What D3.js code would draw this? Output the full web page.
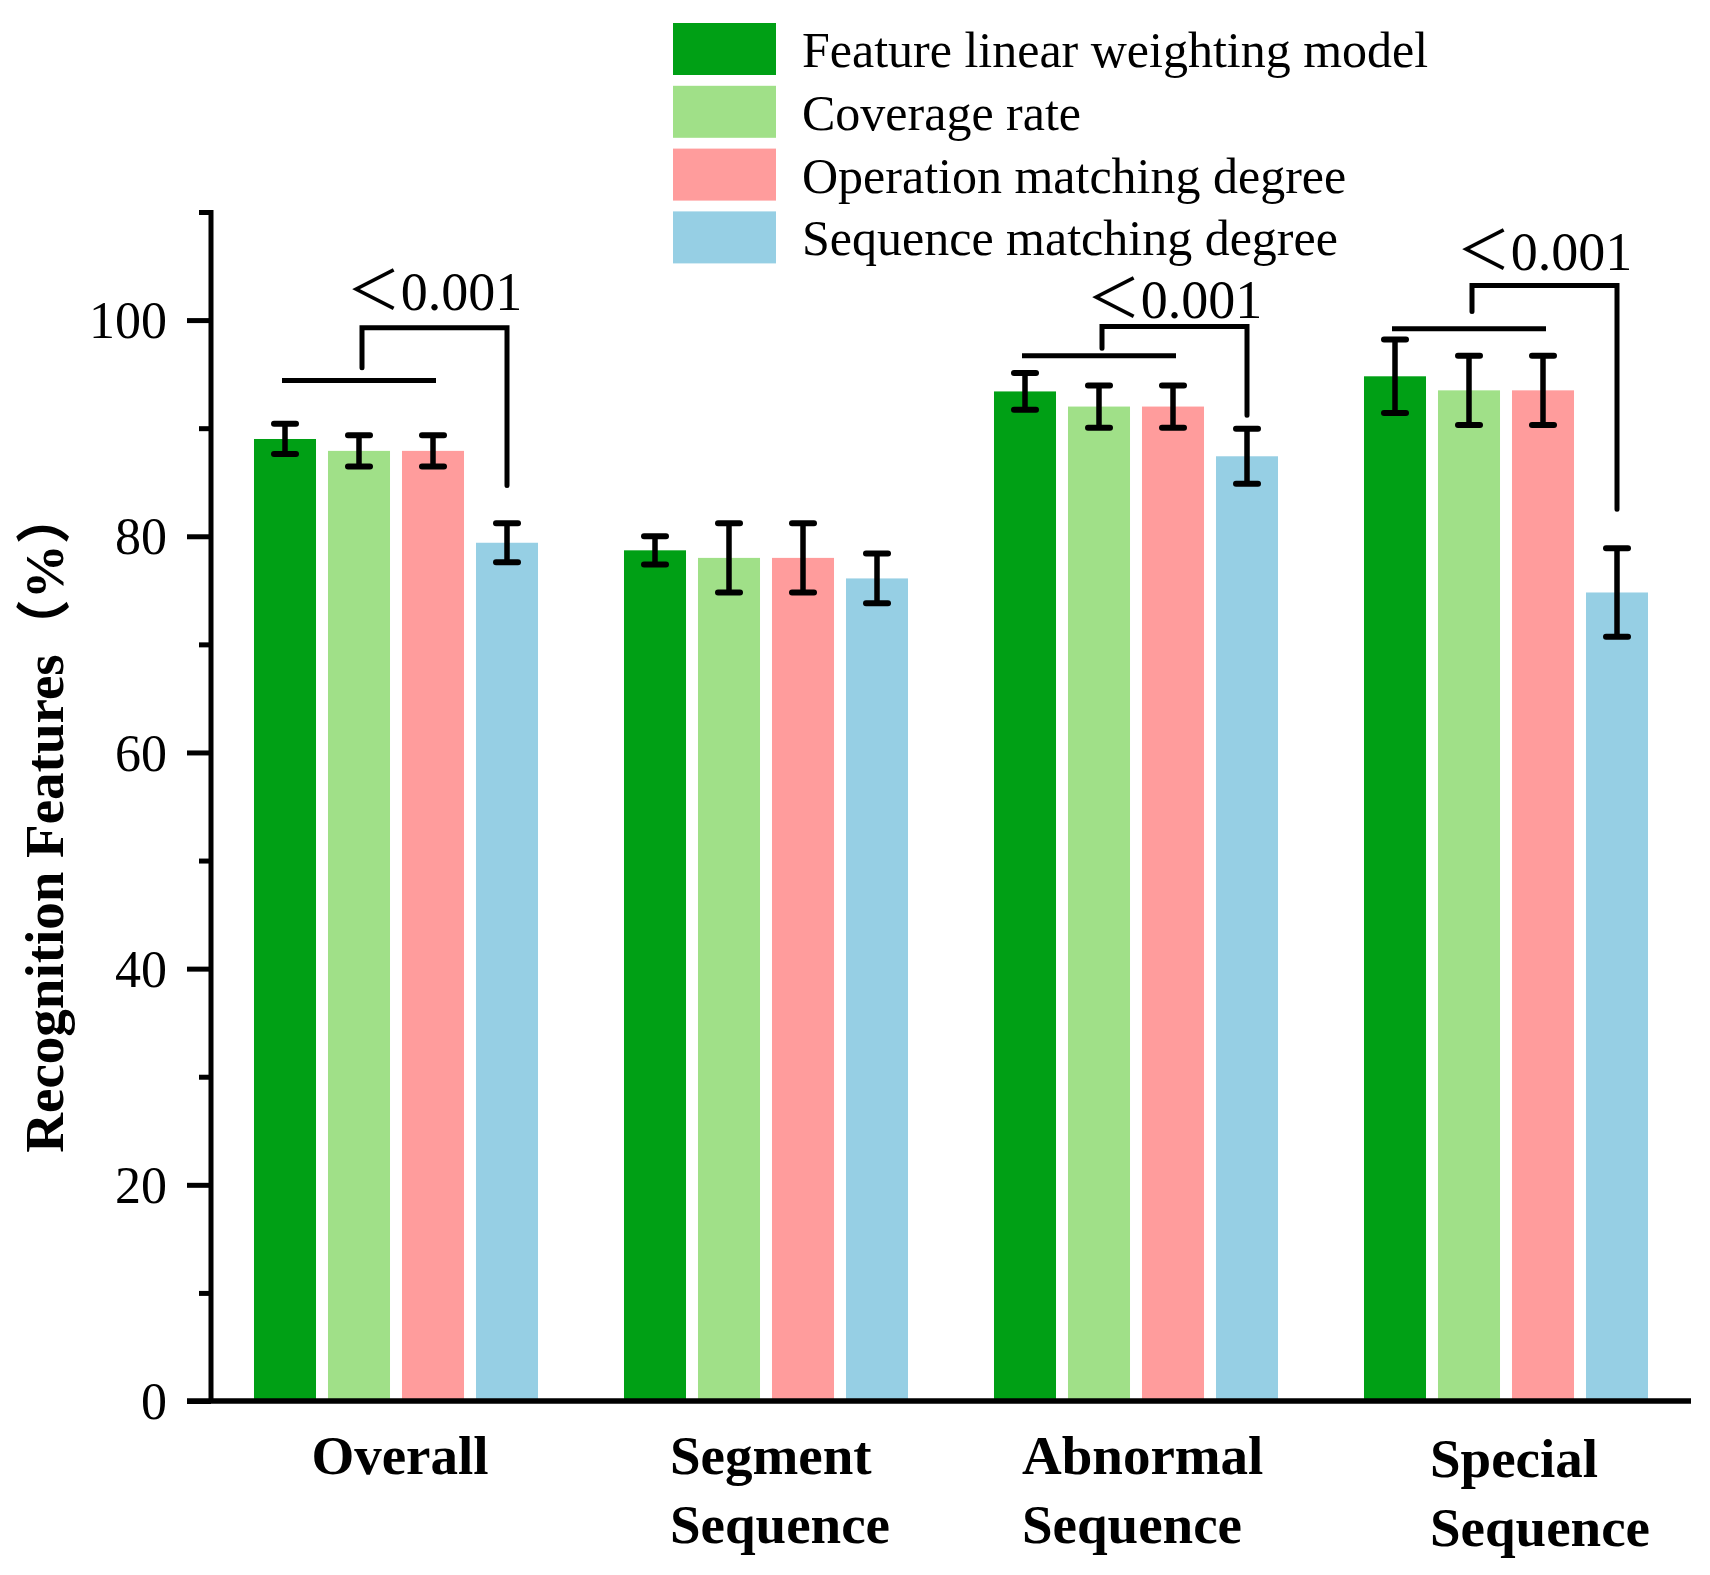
<!DOCTYPE html>
<html>
<head>
<meta charset="utf-8">
<script src="https://cdn.jsdelivr.net/npm/d3@7"></script>
<style>
  body { margin: 0; background: #fff; }
  text { font-family: "Liberation Serif", "Times New Roman", "Noto Sans CJK SC", serif; fill: #000; }
</style>
</head>
<body>
<div id="chart"></div>
<script>
// categories and series
const categories = ["Overall", "Segment Sequence", "Abnormal Sequence", "Special Sequence"];
const categoryLines = [["Overall"], ["Segment", "Sequence"], ["Abnormal", "Sequence"], ["Special", "Sequence"]];
const seriesNames = ["Feature linear weighting model", "Coverage rate", "Operation matching degree", "Sequence matching degree"];

// bar heights (%), one array per series, in category order
const featureLinear = [89.0, 78.7, 93.4, 94.8];
const coverageRate = [87.9, 78.0, 92.0, 93.5];
const operationMatching = [87.9, 78.0, 92.0, 93.5];
const sequenceMatching = [79.4, 76.1, 87.4, 74.8];

// error bar half widths
const featureLinearErr = [1.4, 1.3, 1.7, 3.4];
const coverageRateErr = [1.45, 3.2, 1.95, 3.2];
const operationMatchingErr = [1.45, 3.2, 1.95, 3.2];
const sequenceMatchingErr = [1.8, 2.3, 2.55, 4.1];

const yTicks = [0, 20, 40, 60, 80, 100];
const yMinorTicks = [10, 30, 50, 70, 90, 110];

// significance brackets: category, lower line, stub bottom, top line, right leg end, label baseline
const sigCats = ["Overall", "Abnormal Sequence", "Special Sequence"];
const sigLow = [94.4, 96.7, 99.2];
const sigStub = [95.6, 97.4, 100.8];
const sigTop = [99.3, 99.4, 103.2];
const sigLeg = [84.7, 91.2, 82.5];
const sigLabel = [100.9, 100.2, 104.6];
const sigText = "＜0.001";

const colors = ["#00a015", "#a0e088", "#ff9c9c", "#96cfe4"];

const values = [featureLinear, coverageRate, operationMatching, sequenceMatching];
const errors = [featureLinearErr, coverageRateErr, operationMatchingErr, sequenceMatchingErr];

const W = 1710, H = 1575;
const plotLeft = 211, plotRight = 1691, plotTop = 212, plotBottom = 1401;

const svg = d3.select("#chart").append("svg")
    .attr("width", W)
    .attr("height", H);

// scales
const x0 = d3.scaleBand().domain(categories).range([plotLeft, plotRight])
    .paddingInner(0.2324).paddingOuter(0.1162);
const x1 = d3.scaleBand().domain(seriesNames).range([0, x0.bandwidth()])
    .paddingInner(0.162).paddingOuter(0);
const y = d3.scaleLinear().domain([0, 110]).range([plotBottom, plotTop]);

// bars
const rows = [];
categories.forEach((c, ci) => {
  seriesNames.forEach((s, si) => {
    rows.push({ cat: c, ser: s, si: si, v: values[si][ci], e: errors[si][ci] });
  });
});

svg.append("g").selectAll("rect")
    .data(rows)
  .enter().append("rect")
    .attr("x", d => x0(d.cat) + x1(d.ser))
    .attr("y", d => y(d.v))
    .attr("width", x1.bandwidth())
    .attr("height", d => y(0) - y(d.v))
    .attr("fill", d => colors[d.si]);

// error bars
const eb = svg.append("g").attr("stroke", "#000").attr("stroke-width", 5.5);
const cx = d => x0(d.cat) + x1(d.ser) + x1.bandwidth() / 2;
eb.selectAll("line.v").data(rows).enter().append("line")
    .attr("x1", cx).attr("x2", cx)
    .attr("y1", d => y(d.v + d.e)).attr("y2", d => y(d.v - d.e));
eb.selectAll("line.t").data(rows).enter().append("line")
    .attr("stroke-linecap", "round").attr("stroke-width", 6)
    .attr("x1", d => cx(d) - 11).attr("x2", d => cx(d) + 11)
    .attr("y1", d => y(d.v + d.e)).attr("y2", d => y(d.v + d.e));
eb.selectAll("line.b").data(rows).enter().append("line")
    .attr("stroke-linecap", "round").attr("stroke-width", 6)
    .attr("x1", d => cx(d) - 11).attr("x2", d => cx(d) + 11)
    .attr("y1", d => y(d.v - d.e)).attr("y2", d => y(d.v - d.e));

// significance brackets
const sig = svg.append("g");
sigCats.forEach((c, i) => {
  const xa = x0(c) + x1(seriesNames[0]) + x1.bandwidth() / 2;
  const xb = x0(c) + x1(seriesNames[2]) + x1.bandwidth() / 2;
  const xc = x0(c) + x1(seriesNames[3]) + x1.bandwidth() / 2;
  const xm = (xa + xb) / 2 + 3;
  sig.append("line")
      .attr("x1", xa - 3).attr("x2", xb + 3)
      .attr("y1", y(sigLow[i])).attr("y2", y(sigLow[i]))
      .attr("stroke", "#000").attr("stroke-width", 5);
  sig.append("path")
      .attr("d", `M${xm},${y(sigStub[i])}V${y(sigTop[i])}H${xc}V${y(sigLeg[i])}`)
      .attr("fill", "none").attr("stroke", "#000").attr("stroke-width", 5)
      .attr("stroke-linecap", "round");
  sig.append("text")
      .attr("x", (xm + xc) / 2)
      .attr("y", y(sigLabel[i]))
      .attr("text-anchor", "middle")
      .style("font-size", "54px")
      .text(sigText);
});

// y axis
const yAxis = svg.append("g").attr("transform", `translate(${plotLeft},0)`)
    .call(d3.axisLeft(y).tickValues(yTicks).tickSize(24).tickPadding(20).tickFormat(d3.format("d")));
yAxis.select(".domain").remove();
yAxis.selectAll(".tick line").attr("stroke", "#000").attr("stroke-width", 5);
yAxis.selectAll(".tick text").style("font-size", "52px").attr("dy", "0.34em");

const yMinor = svg.append("g").attr("transform", `translate(${plotLeft},0)`)
    .call(d3.axisLeft(y).tickValues(yMinorTicks).tickSize(12).tickFormat(""));
yMinor.select(".domain").remove();
yMinor.selectAll(".tick line").attr("stroke", "#000").attr("stroke-width", 5);

svg.append("line")
    .attr("x1", plotLeft).attr("x2", plotLeft)
    .attr("y1", y(110) - 2).attr("y2", y(0) + 2)
    .attr("stroke", "#000").attr("stroke-width", 5);

// x axis
svg.append("line")
    .attr("x1", plotLeft - 24).attr("x2", plotRight)
    .attr("y1", y(0)).attr("y2", y(0))
    .attr("stroke", "#000").attr("stroke-width", 5.5);

// category labels
const labelNudge = [4, -96, -114, -76];
categories.forEach((c, i) => {
  const lines = categoryLines[i];
  const cxg = x0(c) + x0.bandwidth() / 2;
  const t = svg.append("text")
      .attr("text-anchor", lines.length === 1 ? "middle" : "start")
      .attr("y", i === 3 ? 1477 : 1474)
      .style("font-size", "55px")
      .style("font-weight", "bold");
  lines.forEach((ln, k) => {
    t.append("tspan")
        .attr("x", cxg + labelNudge[i])
        .attr("dy", k === 0 ? 0 : 69)
        .text(ln);
  });
});

// y axis title
svg.append("text")
    .attr("transform", "translate(63,821) rotate(-90)")
    .attr("text-anchor", "middle")
    .style("font-size", "55px")
    .style("font-weight", "bold")
    .text("Recognition Features（%）");

// legend
const legend = svg.append("g").attr("transform", "translate(673,23)");
seriesNames.forEach((s, i) => {
  const g = legend.append("g").attr("transform", `translate(0,${i * 62.8})`);
  g.append("rect").attr("width", 103).attr("height", 52).attr("fill", colors[i]);
  g.append("text").attr("x", 129).attr("y", 44)
      .style("font-size", "50px")
      .text(s);
});
</script>
</body>
</html>
